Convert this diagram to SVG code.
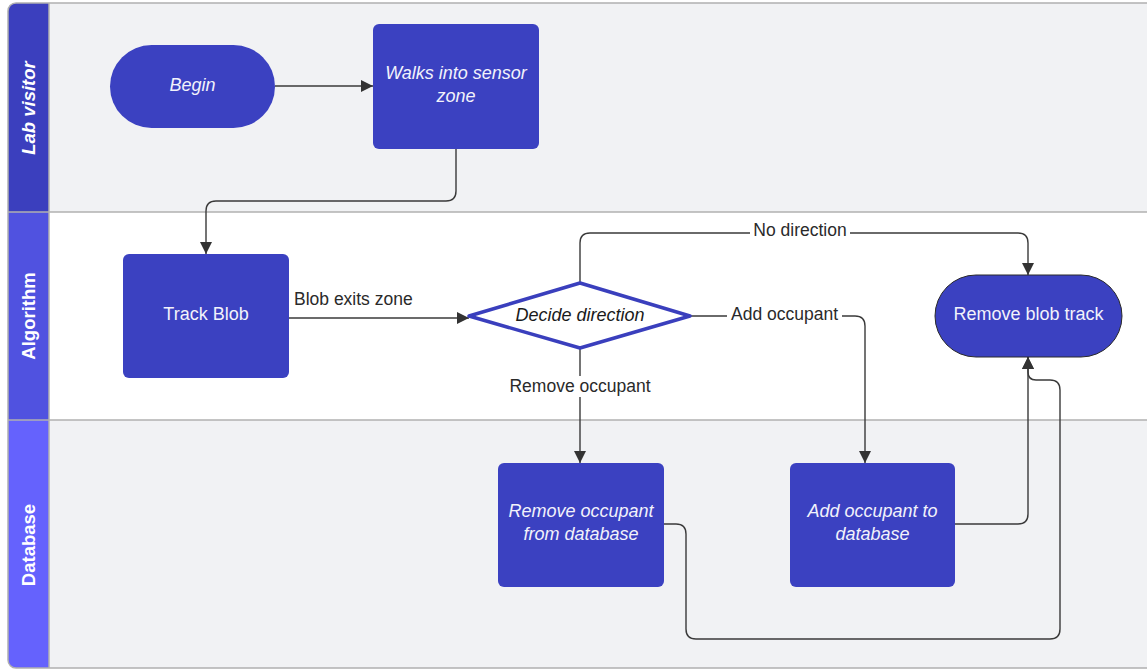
<svg xmlns="http://www.w3.org/2000/svg" width="1147" height="670" viewBox="0 0 1147 670">
<style>
.node{fill:#3b41c1;}
.nt{font-family:"Liberation Sans",Arial,sans-serif;font-size:18px;fill:#f2f2fb;text-anchor:middle;}
.it{font-style:italic;}
.lt{font-family:"Liberation Sans",Arial,sans-serif;font-size:18.5px;fill:#ffffff;font-weight:bold;text-anchor:middle;}
.cl{fill:none;stroke:#3a3a3a;stroke-width:1.4;}
.lbl{font-family:"Liberation Sans",Arial,sans-serif;font-size:17.5px;fill:#2a2a2a;}
</style>
<defs>
<marker id="ah" viewBox="0 0 12 12" refX="12" refY="6" markerWidth="12" markerHeight="12" markerUnits="userSpaceOnUse" orient="auto">
<path d="M0,0 L12,6 L0,12 z" fill="#333"/>
</marker>
<clipPath id="frame"><rect x="8" y="3" width="1160" height="665" rx="8"/></clipPath>
</defs>
<rect width="1147" height="670" fill="#ffffff"/>
<g id="lanes" clip-path="url(#frame)">
<rect x="49" y="3" width="1120" height="209" fill="#f1f2f4"/>
<rect x="49" y="212" width="1120" height="208" fill="#ffffff"/>
<rect x="49" y="420" width="1120" height="250" fill="#f1f2f4"/>
<rect x="8" y="3" width="41" height="209" fill="#3b3fbe"/>
<rect x="8" y="212" width="41" height="208" fill="#5052e0"/>
<rect x="8" y="420" width="41" height="250" fill="#6562fd"/>
<line x1="8" y1="212" x2="1147" y2="212" stroke="#b0b0b0" stroke-width="1.5"/>
<line x1="8" y1="420" x2="1147" y2="420" stroke="#b0b0b0" stroke-width="1.5"/>
<line x1="49" y1="3" x2="49" y2="670" stroke="#b0b0b0" stroke-width="1.5"/>
</g>
<rect x="8" y="3" width="1160" height="665" rx="8" fill="none" stroke="#b0b0b0" stroke-width="1.5"/>
<text class="lt it" transform="translate(35,108) rotate(-90)">Lab visitor</text>
<text class="lt" transform="translate(35,316) rotate(-90)">Algorithm</text>
<text class="lt" transform="translate(35,545) rotate(-90)">Database</text>
<g id="connectors">
<path class="cl" d="M275,86 L373,86" marker-end="url(#ah)"/>
<path class="cl" d="M456,149 L456,191 Q456,201 446,201 L216,201 Q206,201 206,211 L206,254" marker-end="url(#ah)"/>
<path class="cl" d="M289,318 L469,318" marker-end="url(#ah)"/>
<path class="cl" d="M580,283 L580,243 Q580,233 590,233 L1018,233 Q1028,233 1028,243 L1028,275" marker-end="url(#ah)"/>
<path class="cl" d="M690,316 L855,316 Q865,316 865,326 L865,463" marker-end="url(#ah)"/>
<path class="cl" d="M580,348 L580,463" marker-end="url(#ah)"/>
<path class="cl" d="M955,524 L1018,524 Q1028,524 1028,514 L1028,357" marker-end="url(#ah)"/>
<path class="cl" d="M664,524 L676,524 Q686,524 686,534 L686,629 Q686,639 696,639 L1050,639 Q1060,639 1060,629 L1060,390 Q1060,380 1050,380 L1036,380 Q1028,380 1028,372 L1028,357" marker-end="url(#ah)"/>
<text class="lbl" x="294" y="305">Blob exits zone</text>
<rect x="750" y="222" width="100" height="20" fill="#ffffff"/>
<text class="lbl" x="800" y="236" text-anchor="middle">No direction</text>
<rect x="727" y="305" width="115" height="20" fill="#ffffff"/>
<text class="lbl" x="784.5" y="320" text-anchor="middle">Add occupant</text>
<rect x="503" y="376" width="154" height="21" fill="#ffffff"/>
<text class="lbl" x="580" y="392" text-anchor="middle">Remove occupant</text>
</g>
<g id="begin">
<rect class="node" x="110" y="45" width="165" height="83" rx="41.5"/>
<text class="nt it" x="192.5" y="91">Begin</text>
</g>
<g id="walks">
<rect class="node" x="373" y="24" width="166" height="125" rx="6"/>
<text class="nt it" x="456" y="79">Walks into sensor</text>
<text class="nt it" x="456" y="102">zone</text>
</g>
<g id="track">
<rect class="node" x="123" y="254" width="166" height="124" rx="6"/>
<text class="nt" x="206" y="320">Track Blob</text>
</g>
<g id="decide">
<polygon points="469,316 580,283 690,316 580,348" fill="#ffffff" stroke="#3a3fbd" stroke-width="3.5" stroke-linejoin="round"/>
<text class="nt it" x="580" y="321" style="fill:#1a1a1a">Decide direction</text>
</g>
<g id="removeblob">
<rect class="node" x="935" y="275" width="187" height="82" rx="41" stroke="#2a2a2a" stroke-width="1"/>
<text class="nt" x="1028.5" y="320">Remove blob track</text>
</g>
<g id="removeocc">
<rect class="node" x="498" y="463" width="166" height="124" rx="6"/>
<text class="nt it" x="581" y="517">Remove occupant</text>
<text class="nt it" x="581" y="540">from database</text>
</g>
<g id="addocc">
<rect class="node" x="790" y="463" width="165" height="124" rx="6"/>
<text class="nt it" x="872.5" y="517">Add occupant to</text>
<text class="nt it" x="872.5" y="540">database</text>
</g>
</svg>
